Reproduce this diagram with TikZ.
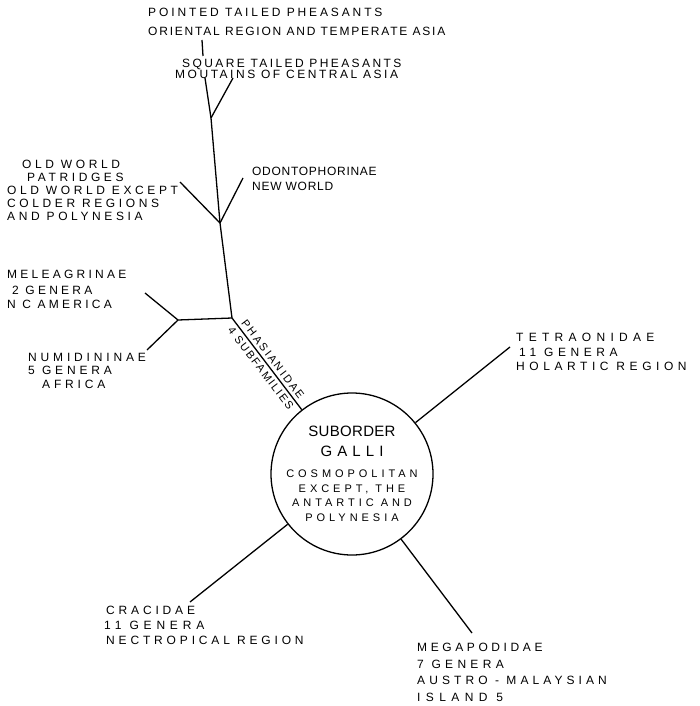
\documentclass[tikz,border=0pt]{standalone}
\usepackage{fontspec}
\newfontfamily\hand{Liberation Sans}
\newcommand\trk[1]{\addfontfeatures{LetterSpace=#1}}
\usetikzlibrary{calc}

\begin{document}
\begin{tikzpicture}[x=1pt,y=-1pt]

  \tikzstyle{label}=[inner sep=0pt, anchor=north west, align=left]
  \tikzstyle{track}=[font=\hand\fontsize{12}{14.5}\selectfont\trk{#1}]
  \tikzstyle{branch}=[color=black, line width=1.3pt]
  \tikzstyle{suborder}=[shape=circle, draw, line width=1.3pt, minimum size=162pt, inner sep=0pt, align=center]

  \useasboundingbox (0,0) rectangle (700,706);

  % the suborder in the middle
  \node [suborder, font=\hand\fontsize{11}{14.7}\selectfont\trk{36}] (galli) at (352,474) {%
    \fontsize{15}{20}\selectfont\trk{2}SUBORDER\\[5pt]
    \fontsize{15}{20}\selectfont\trk{34}GALLI\\[6pt]
    COSMOPOLITAN\\EXCEPT, THE\\ANTARTIC AND\\POLYNESIA};

  % families
  \node [label, track=38] (tetra) at (516,333) {\trk{44}TETRAONIDAE\\\hspace*{3pt}11 GENERA\\HOLARTIC REGION};
  \node [label, track=32] (craci) at (106,606) {CRACIDAE\\\hspace*{-2pt}\trk{40}11 GENERA\\[1pt]NECTROPICAL REGION};
  \node [label, track=30] (megap) at (417,643) {MEGAPODIDAE\\[2pt]\trk{36}7 GENERA\\[2pt]\trk{34}AUSTRO - MALAYSIAN\\[2pt]\trk{45}ISLAND 5};

  % subfamilies of the pheasants
  \node [label, track=27] (melea) at (7,270) {MELEAGRINAE\\[1pt]\hspace*{5pt}2 GENERA\\N C AMERICA};
  \node [label, track=32] (numid) at (28,353) {NUMIDININAE\\[-1pt]5 GENERA\\[-1pt]\hspace*{14pt}AFRICA};
  \node [label, track=30] (patri) at (7,160) {\hspace*{15pt}OLD WORLD\\[-1.5pt]\hspace*{20pt}PATRIDGES\\[-1.5pt]OLD WORLD EXCEPT\\[-1.5pt]COLDER REGIONS\\[-1.5pt]AND POLYNESIA};
  \node [label, track=6] (odont) at (252,167) {ODONTOPHORINAE\\NEW WORLD};
  \node [label, track=20] (squar) at (182,59) {SQUARE TAILED PHEASANTS\\[-3.5pt]\hspace*{-7pt}\trk{21}MOUTAINS OF CENTRAL ASIA};
  \node [label, track=24] (point) at (148,8) {\trk{24}POINTED TAILED PHEASANTS\\[4.5pt]\trk{15}ORIENTAL REGION AND TEMPERATE ASIA};

  % forks of the tree
  \coordinate (phasi) at (232,318);
  \coordinate (guine) at (178,320);
  \coordinate (quail) at (220,223);
  \coordinate (pheas) at (211,118);

  \coordinate (melea end) at (145,293);
  \coordinate (numid end) at (147,350);
  \coordinate (patri end) at (180,182);
  \coordinate (odont end) at (243,178);
  \coordinate (squar end) at (233,78);
  \coordinate (point end) at (205,78);
  \coordinate (point top) at (202,40);
  \coordinate (point low) at (203,56);
  \coordinate (tetra end) at (510,347);
  \coordinate (craci end) at (190,602);
  \coordinate (megap end) at (472,633);

  \draw [branch] (galli.39) -- (tetra end);
  \draw [branch] (galli.218) -- (craci end);
  \draw [branch] (galli.307) -- (megap end);

  \draw [branch] (galli.128) -- (phasi)
    node [midway, above, sloped, inner sep=3pt, font=\hand\fontsize{11}{12}\selectfont\trk{20}] {PHASIANIDAE}
    node [midway, below, sloped, inner sep=3pt, font=\hand\fontsize{11}{12}\selectfont\trk{16}] {4 SUBFAMILIES};
  \draw [branch] (phasi) -- (guine);
  \draw [branch] (guine) -- (melea end);
  \draw [branch] (guine) -- (numid end);
  \draw [branch] (phasi) -- (quail);
  \draw [branch] (quail) -- (patri end);
  \draw [branch] (quail) -- (odont end);
  \draw [branch] (quail) -- (pheas);
  \draw [branch] (pheas) -- (squar end);
  \draw [branch] (pheas) -- (point end);
  \draw [branch] (point top) -- (point low);
\end{tikzpicture}
\end{document}
